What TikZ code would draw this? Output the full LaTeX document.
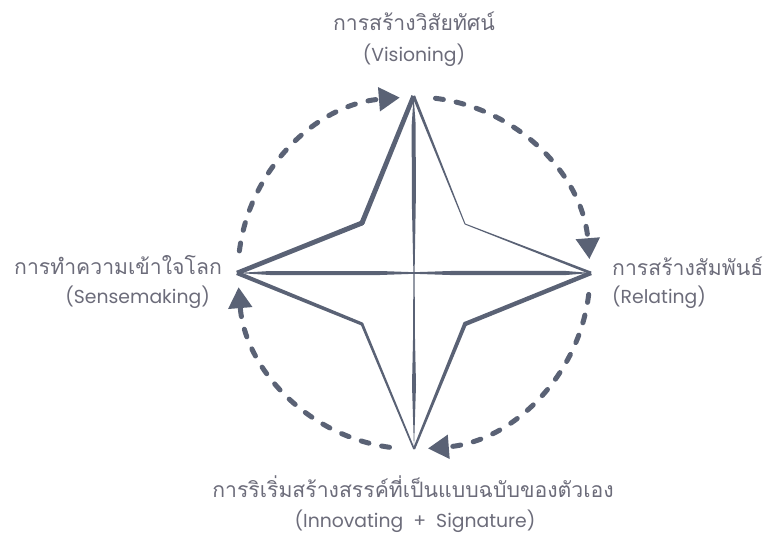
\documentclass[tikz,border=0pt]{standalone}
\usepackage{fontspec}
\setmainfont{Poppins}
\newfontfamily\thaifont[Script=Thai]{Loma}
\usetikzlibrary{arrows.meta,calc}
\definecolor{ink}{HTML}{5A6275}
\definecolor{txt}{HTML}{6C6C7A}
\newcommand\tseg[4]{\fill[ink] (#1) -- ($(#1)!#3!90:(#2)$) -- ($(#2)!#4!-90:(#1)$) -- ($(#2)!#4!90:(#1)$) -- ($(#1)!#3!-90:(#2)$) -- cycle;}
\begin{document}
\begin{tikzpicture}[x=1pt,y=-1pt,
  thaitext/.style={text=txt, font=\thaifont\fontsize{21.2}{21}\selectfont, inner sep=0pt},
  engtext/.style={text=txt, font=\fontsize{18.8}{19}\selectfont, inner sep=0pt},
  cyc/.style={draw=ink, line width=5pt, line cap=round, dash pattern=on 8pt off 13pt, -{Triangle[length=21pt,width=23pt]}}]
\useasboundingbox (0,0) rectangle (770,537);
% star vertices
\coordinate (C) at (414,273);
\coordinate (T) at (413.6,96);
\coordinate (R) at (591,273);
\coordinate (B) at (414,449);
\coordinate (L) at (237,273);
\coordinate (iUL) at (362,223);
\coordinate (iUR) at (465,224);
\coordinate (iLR) at (465,324);
\coordinate (iLL) at (362,324);
% star edges (tapered)
\tseg{T}{iUL}{2.3pt}{2.5pt}
\tseg{iUL}{L}{2.5pt}{2.3pt}
\fill[ink] (iUL) circle[radius=2.5pt];
\tseg{T}{iUR}{1.5pt}{0.5pt}
\tseg{iUR}{R}{0.5pt}{1.4pt}
\tseg{R}{iLR}{2.2pt}{2.2pt}
\tseg{iLR}{B}{2pt}{1.1pt}
\fill[ink] (iLR) circle[radius=2.2pt];
\tseg{L}{iLL}{2.1pt}{1.6pt}
\tseg{iLL}{B}{1.4pt}{0.8pt}
\fill[ink] (iLL) circle[radius=1.5pt];
% cross
\fill[ink] (T) -- (415.7,125) -- (415.8,200) -- (414.6,273) -- (415,340) -- (416,385) -- (B)
  -- (412,385) -- (413,340) -- (413.4,273) -- (411.8,200) -- (411.7,125) -- cycle;
\fill[ink] (L) -- (270,271) -- (380,271) -- (414,272.2) -- (450,271) -- (565,270.9) -- (R)
  -- (565,275.1) -- (450,275) -- (414,273.8) -- (380,275) -- (270,275) -- cycle;
% cycle arrows
\draw[cyc] (C) ++(-83:176) arc[start angle=-83, end angle=-4.5, radius=176];
\draw[cyc] (C) ++(7:176) arc[start angle=7, end angle=85.5, radius=176];
\draw[cyc] (C) ++(98:176) arc[start angle=98, end angle=175.4, radius=176];
\draw[cyc] (C) ++(-172.8:176) arc[start angle=-172.8, end angle=-94.6, radius=176];
% labels
\node[thaitext, anchor=base] (vT) at (414,31) {การสร้างวิสัยทัศน์};
\node[engtext, anchor=base] (vE) at (414,62) {(Visioning)};
\node[thaitext, anchor=base east] (sT) at (222,274) {การทำความเข้าใจโลก};
\node[engtext, anchor=base east] (sE) at (210,303) {(Sensemaking)};
\node[thaitext, anchor=base west] (rT) at (612,275) {การสร้างสัมพันธ์};
\node[engtext, anchor=base west] (rE) at (612,303) {(Relating)};
\node[thaitext, anchor=base] (iT) at (413,497) {การริเริ่มสร้างสรรค์ที่เป็นแบบฉบับของตัวเอง};
\node[engtext, anchor=base] (iE) at (415,527) {(Innovating\ \ +\ \ Signature)};
\end{tikzpicture}
\end{document}
